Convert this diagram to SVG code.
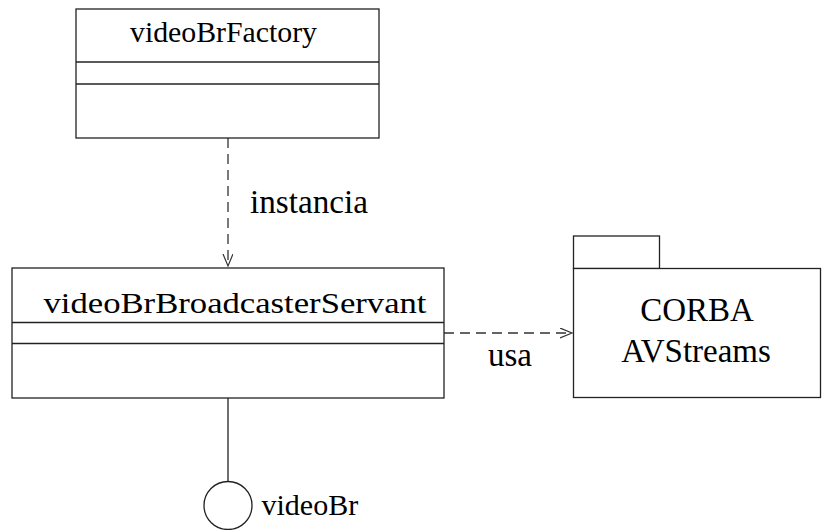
<svg xmlns="http://www.w3.org/2000/svg" width="822" height="530" viewBox="0 0 822 530">
<defs>
<style>
.box{fill:#fff;stroke:#222;stroke-width:1.3}
.ln{fill:none;stroke:#222;stroke-width:1.3}
.dash{fill:none;stroke:#333;stroke-width:1.3;stroke-dasharray:10 6}
text{font-family:"Liberation Serif","Times New Roman",serif;font-size:33px;fill:#000}
</style>
<marker id="open" markerWidth="14" markerHeight="12" refX="12" refY="5" orient="auto" markerUnits="userSpaceOnUse">
<path d="M0,0 L12,5 L0,10" fill="none" stroke="#333" stroke-width="1.2"/>
</marker>
</defs>
<g id="connectors">
<line class="dash" x1="228" y1="138" x2="228" y2="266" marker-end="url(#open)"/>
<line class="dash" x1="444" y1="333" x2="572" y2="333" marker-end="url(#open)"/>
<line class="ln" x1="228" y1="398" x2="228" y2="481"/>
<text x="250" y="213" textLength="118" lengthAdjust="spacingAndGlyphs">instancia</text>
<text x="488" y="365.5">usa</text>
</g>
<g id="videoBrFactory">
<rect class="box" x="76" y="9" width="303" height="129"/>
<line class="ln" x1="76" y1="62" x2="379" y2="62"/>
<line class="ln" x1="76" y1="84" x2="379" y2="84"/>
<text x="130" y="42" style="font-size:30px" textLength="187" lengthAdjust="spacingAndGlyphs">videoBrFactory</text>
</g>
<g id="videoBrBroadcasterServant">
<rect class="box" x="12" y="268" width="432" height="130"/>
<line class="ln" x1="12" y1="322.5" x2="444" y2="322.5"/>
<line class="ln" x1="12" y1="343.5" x2="444" y2="343.5"/>
<text x="43.5" y="313" style="font-size:30px" textLength="383" lengthAdjust="spacingAndGlyphs">videoBrBroadcasterServant</text>
</g>
<g id="corba">
<rect class="box" x="573.5" y="236" width="86" height="32.5"/>
<rect class="box" x="573.5" y="268.5" width="247" height="129"/>
<text x="697" y="321" text-anchor="middle">CORBA</text>
<text x="696" y="362" text-anchor="middle">AVStreams</text>
</g>
<g id="videoBr">
<circle class="box" cx="228" cy="505.5" r="24"/>
<text x="261.5" y="515" style="font-size:30px">videoBr</text>
</g>
</svg>
